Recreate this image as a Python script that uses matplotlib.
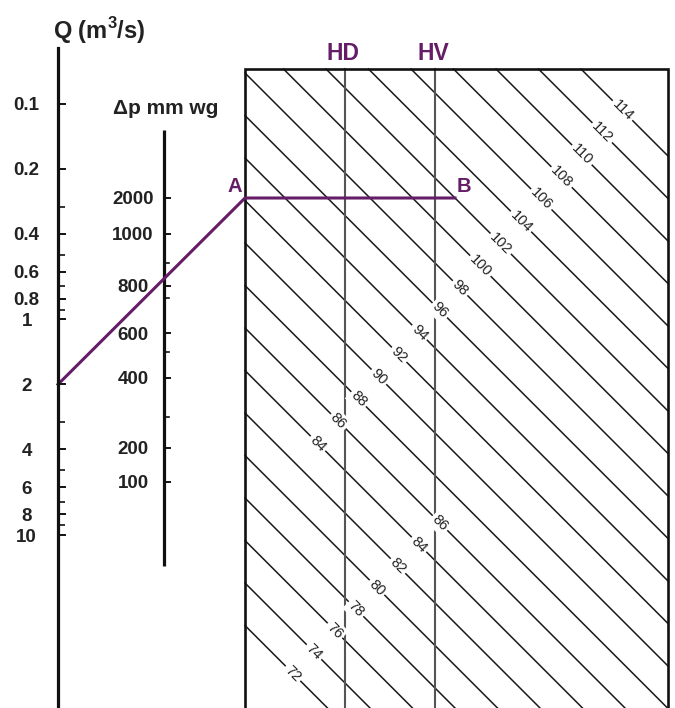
import numpy as np
import matplotlib.pyplot as plt
from matplotlib.ticker import FixedLocator, FixedFormatter, NullFormatter

plt.rcParams['font.family'] = ['Liberation Sans', 'DejaVu Sans']
plt.rcParams['mathtext.fontset'] = 'custom'
plt.rcParams['mathtext.rm'] = 'Liberation Sans'
plt.rcParams['mathtext.bf'] = 'Liberation Sans:bold'

# ==========================
# DATA
# ==========================

# flow scale Q (m3/s), log
q_major = [0.1, 0.2, 0.4, 0.6, 0.8, 1, 2, 4, 6, 8, 10]
q_labels = ["0.1", "0.2", "0.4", "0.6", "0.8", "1", "2", "4", "6", "8", "10"]
q_minor = [0.3, 0.5, 0.7, 0.9, 3, 5, 7, 9]

# pressure scale (mm wg), hand drawn -> positions kept as layout below
dp_major = [2000, 1000, 800, 600, 400, 200, 100]
dp_minor = [900, 700, 500, 300]

# sound level lines (dB)
db_lines = [72, 74, 76, 78, 80, 82, 84, 86, 88, 90, 92, 94,
            96, 98, 100, 102, 104, 106, 108, 110, 112, 114]
db_upper_labels = [84, 86, 88, 90, 92, 94, 96, 98, 100, 102, 104, 106, 108, 110, 112, 114]
db_lower_labels = [72, 74, 76, 78, 80, 82, 84, 86]

# worked example
q_op = 2
dp_op = 2000
db_b = 102

# ==========================
# LAYOUT (pixels)
# ==========================
W, H = 675, 708
purple = "#641d66"
ink = "#222222"

dp_y = {2000: 198, 1000: 234, 900: 263, 800: 286, 700: 298, 600: 333,
        500: 352, 400: 378, 300: 417, 200: 448, 100: 482}
dp_x = 164

box_l, box_r, box_t = 245, 668, 69
hd_x, hv_x = 345, 435
c_ref, v_ref, c_step = -172, 98, 42.5   # line y = x + c


def line_c(v):
    return c_ref - (v - v_ref) / 2 * c_step


fig = plt.figure(figsize=(W / 100, H / 100), dpi=100)
ax = fig.add_axes([0, 0, 1, 1])
ax.set_xlim(0, W)
ax.set_ylim(H, 0)
ax.axis("off")

# ==========================
# Q AXIS (log)
# ==========================
q_top, q_px0, q_px1 = 48, 104, 535     # pixel of axis top, Q=0.1, Q=10
px_per_dec = (q_px1 - q_px0) / 2
ax_q = fig.add_axes([58 / W, 0, 0.01, (H - q_top) / H])
ax_q.patch.set_visible(False)
ax_q.set_yscale("log")
ax_q.set_ylim(10 ** (-1 + (H - q_px0) / px_per_dec), 10 ** (-1 - (q_px0 - q_top) / px_per_dec))
ax_q.set_xlim(0, 1)
for s in ["top", "right", "bottom"]:
    ax_q.spines[s].set_visible(False)
ax_q.spines["left"].set_linewidth(2.3)
ax_q.spines["left"].set_color("#111111")
ax_q.set_xticks([])
ax_q.yaxis.set_major_locator(FixedLocator(q_major))
ax_q.yaxis.set_major_formatter(FixedFormatter(q_labels))
ax_q.yaxis.set_minor_locator(FixedLocator(q_minor))
ax_q.yaxis.set_minor_formatter(NullFormatter())
ax_q.tick_params(axis="y", which="major", direction="in", length=6, width=1.4,
                 pad=22.5, labelsize=13.5, color="#111111")
ax_q.tick_params(axis="y", which="minor", direction="in", length=5, width=1.2,
                 color="#111111")
for lbl in ax_q.get_yticklabels():
    lbl.set_horizontalalignment("center")
    lbl.set_verticalalignment("center_baseline")
    lbl.set_fontweight("bold")
    lbl.set_color(ink)

ax.text(99, 31, r"Q (m$^{\mathbf{3}}$/s)", fontsize=17, fontweight="bold", ha="center",
        va="center", color=ink)

# ==========================
# DELTA P AXIS
# ==========================
ax.plot([dp_x, dp_x], [130, 566], color="#111111", lw=2.3, solid_capstyle="butt")
for v in dp_major:
    ax.plot([dp_x, dp_x + 6], [dp_y[v], dp_y[v]], color="#111111", lw=1.4)
    ax.text(133, dp_y[v], str(v), fontsize=13.5, fontweight="bold", ha="center",
            va="center_baseline", color=ink)
for v in dp_minor:
    ax.plot([dp_x, dp_x + 5], [dp_y[v], dp_y[v]], color="#111111", lw=1.2)
ax.text(166, 108, "Δp mm wg", fontsize=15, fontweight="bold", ha="center",
        va="center", color=ink)

# ==========================
# BOX WITH SOUND LEVEL LINES
# ==========================
for v in db_lines:
    c = line_c(v)
    x0 = max(box_l, box_t - c)
    x1 = min(box_r, H - c)
    if x0 < x1:
        ax.plot([x0, x1], [x0 + c, x1 + c], color="#1a1a1a", lw=1.1, zorder=2)

label_style = dict(fontsize=10.5, rotation=-45, rotation_mode="anchor", ha="center",
                   va="center", color=ink, zorder=4,
                   bbox=dict(boxstyle="square,pad=0.15", fc="white", ec="none"))
for v in db_upper_labels:
    x = 318 + 20.3 * (v - 84) / 2
    ax.text(x, x + line_c(v), str(v), **label_style)
for v in db_lower_labels:
    x = 293 + 21 * (v - 72) / 2
    ax.text(x, x + line_c(v), str(v), **label_style)

ax.plot([hd_x, hd_x], [box_t, H], color="#555555", lw=1.5, zorder=3)
ax.plot([hv_x, hv_x], [box_t, H], color="#555555", lw=1.5, zorder=3)
ax.plot([box_l, box_l, box_r, box_r], [H, box_t, box_t, H], color="#111111", lw=1.9,
        zorder=5, solid_joinstyle="miter")

ax.text(343, 53, "HD", fontsize=16.5, fontweight="bold", ha="center", va="center", color=purple)
ax.text(433, 53, "HV", fontsize=16.5, fontweight="bold", ha="center", va="center", color=purple)

# ==========================
# WORKED EXAMPLE  Q -> A -> B
# ==========================
q_disp = ax_q.transData.transform((0, q_op))
q_pt = ax.transData.inverted().transform(q_disp)
a_y = dp_y[dp_op]
b_x = a_y - line_c(db_b)
ax.plot([q_pt[0], box_l, b_x], [q_pt[1], a_y, a_y], color=purple, lw=2.2, zorder=6,
        solid_joinstyle="miter")
ax.text(235, 186, "A", fontsize=14.5, fontweight="bold", ha="center", va="center", color=purple)
ax.text(464, 186, "B", fontsize=14.5, fontweight="bold", ha="center", va="center", color=purple)

fig.savefig("out.png", dpi=100)
